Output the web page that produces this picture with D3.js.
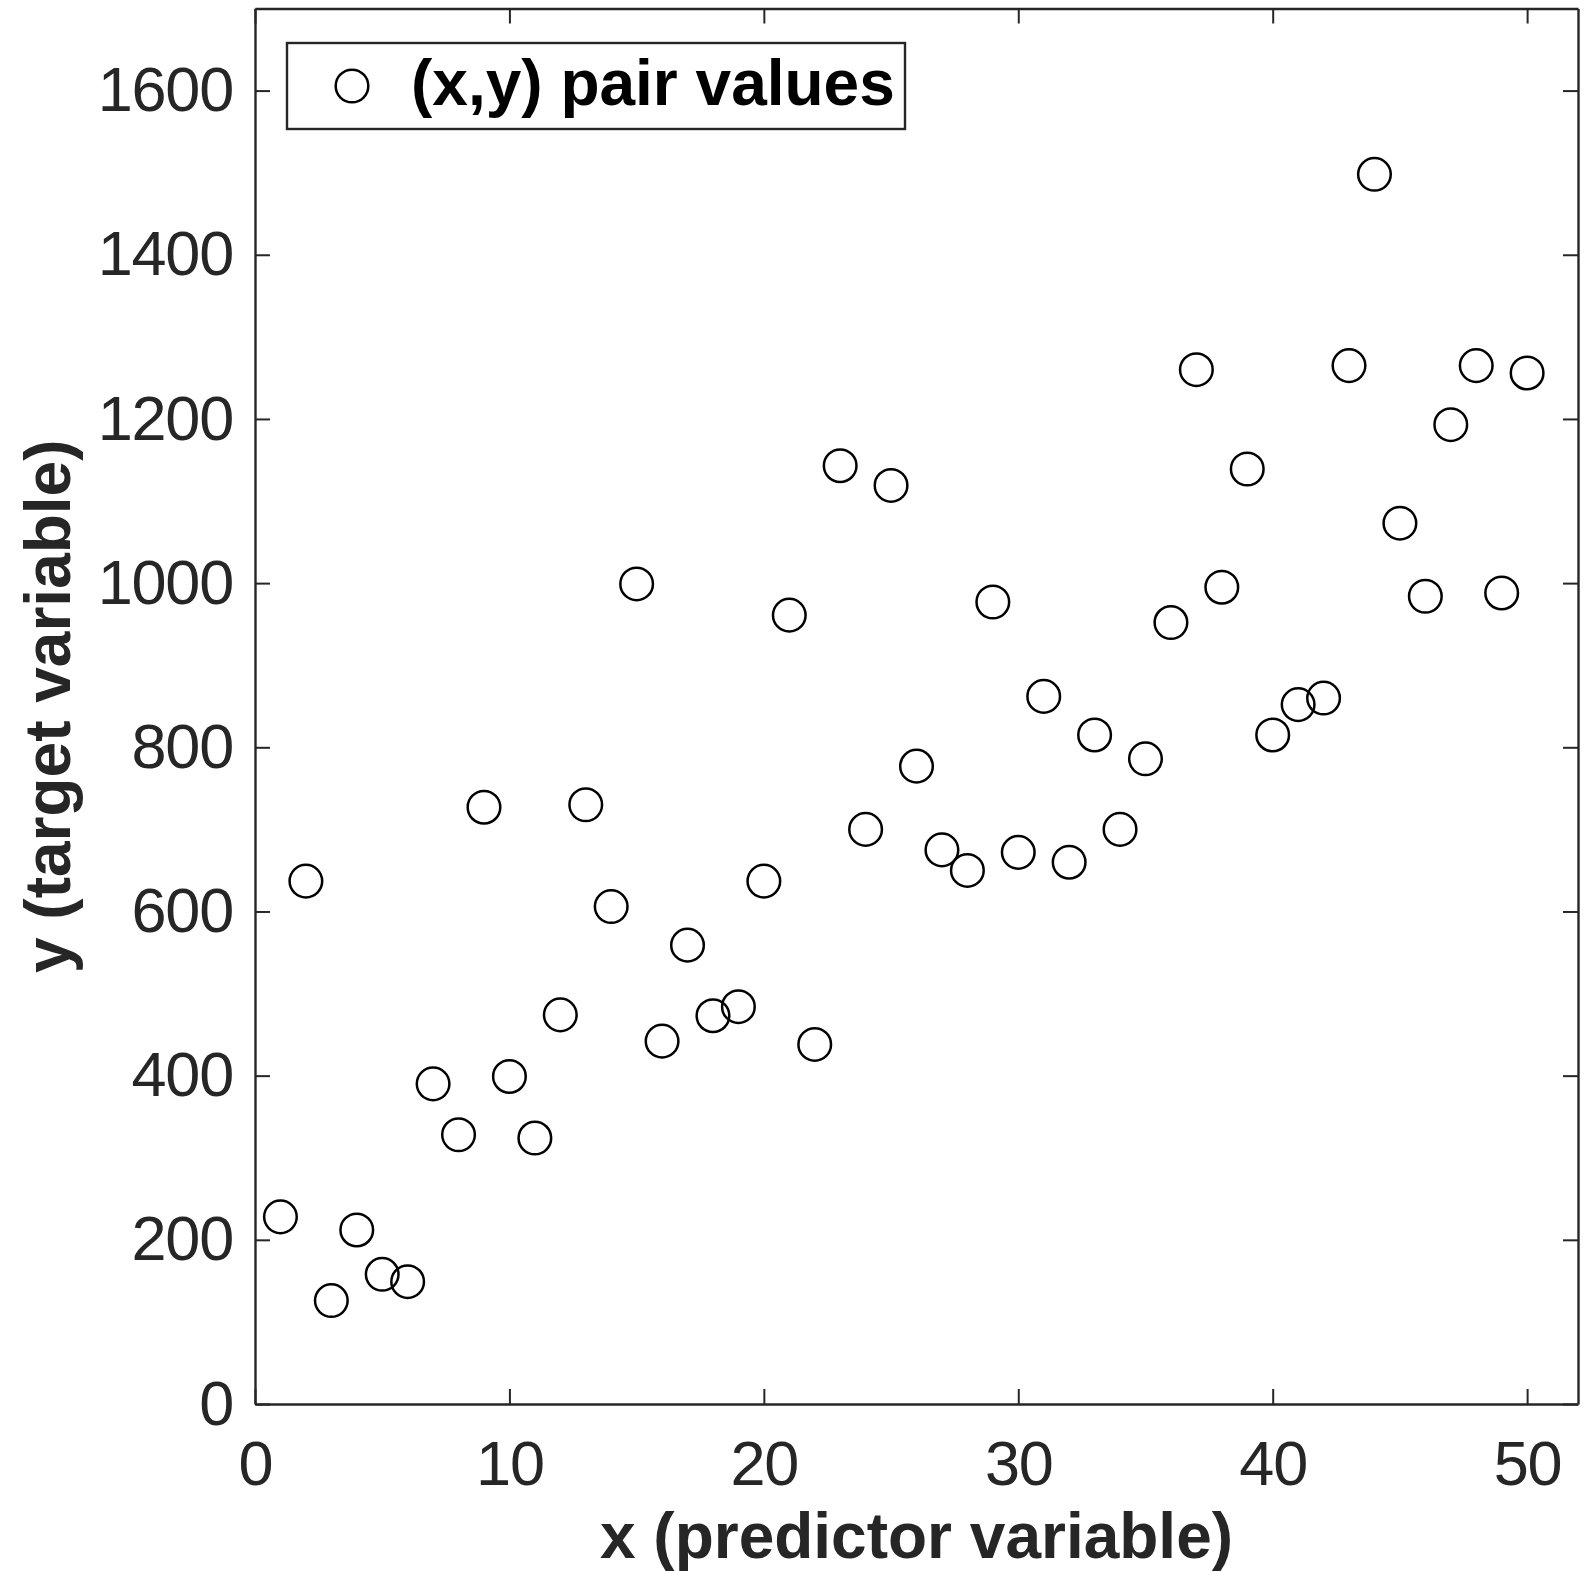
<!DOCTYPE html>
<html>
<head>
<meta charset="utf-8">
<script src="https://cdn.jsdelivr.net/npm/d3@7"></script>
<style>
  html, body { margin: 0; padding: 0; background: #fff; }
  svg { display: block; }
  text { font-family: "Liberation Sans", Arial, Helvetica, sans-serif; }
</style>
</head>
<body>
<svg id="chart" width="1586" height="1571"></svg>
<script>
// ---- data ----
const xValues = [1,2,3,4,5,6,7,8,9,10,11,12,13,14,15,16,17,18,19,20,21,22,23,24,25,
                 26,27,28,29,30,31,32,33,34,35,36,37,38,39,40,41,42,43,44,45,46,47,48,49,50];
const yValues = [228,637,126,212,158,149,390,328,727,399,324,474,730,606,999,442,559,473,484,637,
                 961,438,1143,700,1119,777,675,650,977,672,862,660,815,700,786,952,1260,995,1139,815,
                 852,860,1265,1498,1073,984,1193,1265,988,1256];
const xTicks = [0,10,20,30,40,50];
const yTicks = [0,200,400,600,800,1000,1200,1400,1600];
const xLabel = "x (predictor variable)";
const yLabel = "y (target variable)";
const legendLabel = "(x,y) pair values";

// ---- layout ----
const plotLeft = 255, plotRight = 1578, plotTop = 8.5, plotBottom = 1404;
const axisColor = "#262626";

const svg = d3.select("#chart");
const x = d3.scaleLinear().domain([0, 52]).range([plotLeft, plotRight]);
const y = d3.scaleLinear().domain([0, 1700]).range([plotBottom, plotTop]);

const tickFont = 63;

function styleAxis(g) {
  g.attr("font-size", null).attr("font-family", null);
  g.selectAll(".domain").attr("stroke", axisColor).attr("stroke-width", 2.4);
  g.selectAll(".tick line").attr("stroke", axisColor).attr("stroke-width", 2);
  g.selectAll(".tick text").attr("fill", axisColor)
    .style("font-size", tickFont + "px")
    .attr("letter-spacing", "-1.2px");
}

// bottom axis
const gB = svg.append("g").attr("transform", `translate(0,${plotBottom})`)
  .call(d3.axisBottom(x).tickValues(xTicks).tickFormat(d3.format("d"))
        .tickSizeInner(-15).tickSizeOuter(0).tickPadding(36));
styleAxis(gB);

// top axis
const gT = svg.append("g").attr("transform", `translate(0,${plotTop})`)
  .call(d3.axisTop(x).tickValues(xTicks).tickFormat("")
        .tickSizeInner(-15).tickSizeOuter(0));
styleAxis(gT);

// left axis
const gL = svg.append("g").attr("transform", `translate(${plotLeft},0)`)
  .call(d3.axisLeft(y).tickValues(yTicks).tickFormat(d3.format("d"))
        .tickSizeInner(-15).tickSizeOuter(0).tickPadding(22));
styleAxis(gL);

// right axis
const gR = svg.append("g").attr("transform", `translate(${plotRight},0)`)
  .call(d3.axisRight(y).tickValues(yTicks).tickFormat("")
        .tickSizeInner(-15).tickSizeOuter(0));
styleAxis(gR);

// ---- points ----
const pts = xValues.map((v, i) => ({ x: v, y: yValues[i] }));
svg.append("g").selectAll("circle").data(pts).join("circle")
  .attr("cx", d => x(d.x))
  .attr("cy", d => y(d.y))
  .attr("r", 16.3)
  .attr("fill", "none")
  .attr("stroke", "#000")
  .attr("stroke-width", 2.5);

// ---- axis labels ----
svg.append("text")
  .attr("x", (plotLeft + plotRight) / 2)
  .attr("y", 1558)
  .attr("text-anchor", "middle")
  .attr("fill", axisColor)
  .style("font-size", "64px")
  .style("font-weight", "bold")
  .text(xLabel);

svg.append("text")
  .attr("transform", `translate(70,${(plotTop + plotBottom) / 2}) rotate(-90)`)
  .attr("text-anchor", "middle")
  .attr("fill", axisColor)
  .style("font-size", "64px")
  .style("font-weight", "bold")
  .text(yLabel);

// ---- legend ----
const leg = svg.append("g");
leg.append("rect")
  .attr("x", 287).attr("y", 43).attr("width", 618).attr("height", 86)
  .attr("fill", "#fff").attr("stroke", axisColor).attr("stroke-width", 2.4);
leg.append("circle")
  .attr("cx", 352).attr("cy", 86).attr("r", 16.3)
  .attr("fill", "none").attr("stroke", "#000").attr("stroke-width", 2.5);
leg.append("text")
  .attr("x", 411).attr("y", 105)
  .attr("fill", "#000")
  .style("font-size", "64px")
  .style("font-weight", "bold")
  .text(legendLabel);
</script>
</body>
</html>
